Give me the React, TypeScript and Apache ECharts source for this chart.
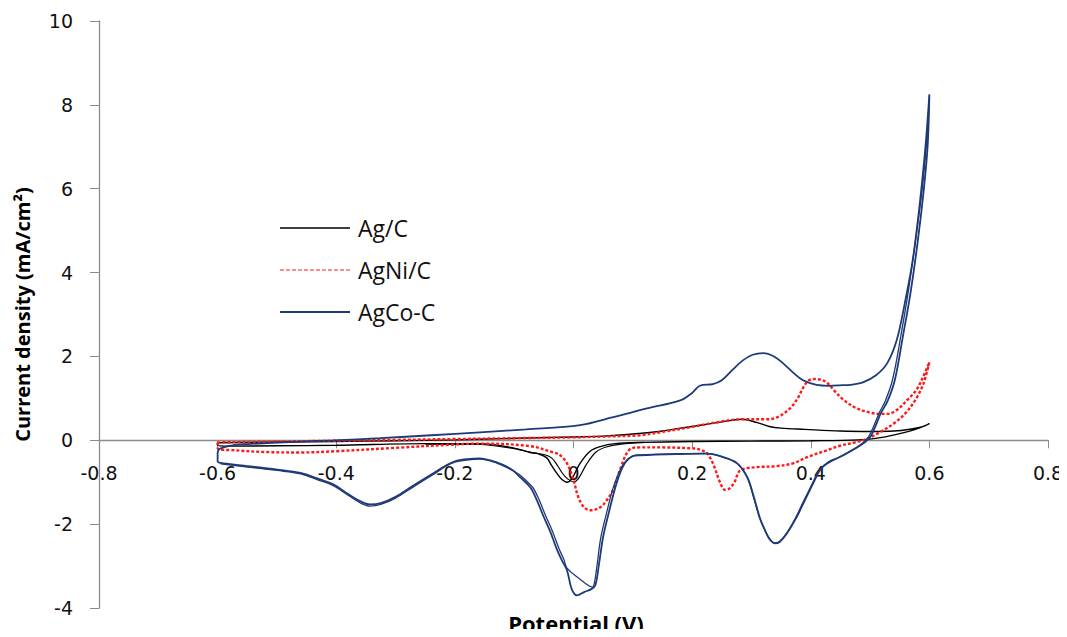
import React, { useEffect, useRef } from "react";
import * as echarts from "echarts";

// ---- tick labels ----
const xTickLabels = ["-0.8", "-0.6", "-0.4", "-0.2", "0", "0.2", "0.4", "0.6", "0.8"];
const yTickLabels = ["-4", "-2", "0", "2", "4", "6", "8", "10"];

// ---- series names ----
const seriesNames = ["Ag/C", "AgNi/C", "AgCo-C"];

// ---- Ag/C (black) : forward scan then reverse scan ----
const agCForward: number[][] = [
  [-0.6, -0.06], [-0.5, -0.04], [-0.4, -0.03], [-0.3, -0.01], [-0.2, 0.01], [-0.12, 0.04],
  [0.0, 0.08], [0.05, 0.1], [0.1, 0.15], [0.15, 0.22], [0.18, 0.29], [0.22, 0.37],
  [0.25, 0.44], [0.284, 0.5], [0.31, 0.42], [0.33, 0.33], [0.35, 0.29], [0.39, 0.26],
  [0.45, 0.22], [0.5, 0.21], [0.54, 0.22], [0.57, 0.27], [0.59, 0.33], [0.6, 0.4],
];
const agCReverse: number[][] = [
  [0.6, 0.4], [0.58, 0.28], [0.55, 0.16], [0.52, 0.07], [0.48, 0.01], [0.4, -0.01],
  [0.3, -0.02], [0.2, -0.03], [0.12, -0.05], [0.07, -0.08], [0.045, -0.15], [0.028, -0.26],
  [0.011, -0.55], [-0.003, -0.92], [-0.011, -1.0], [-0.02, -0.93], [-0.028, -0.79],
  [-0.037, -0.6], [-0.045, -0.42], [-0.06, -0.32], [-0.073, -0.29], [-0.102, -0.18],
  [-0.158, -0.08], [-0.25, -0.08], [-0.4, -0.12], [-0.5, -0.13], [-0.58, -0.14], [-0.6, -0.12],
  [-0.6, -0.06],
];
const agCReverse2: number[][] = [
  [0.12, -0.05], [0.08, -0.09], [0.055, -0.16], [0.038, -0.28], [0.022, -0.57],
  [0.008, -0.92], [0.0, -0.99], [-0.01, -0.92], [-0.019, -0.78], [-0.028, -0.58],
  [-0.037, -0.42], [-0.05, -0.34], [-0.068, -0.3], [-0.1, -0.2], [-0.158, -0.1], [-0.25, -0.09],
];

// ---- AgNi/C (red dashed) ----
const agNiForward: number[][] = [
  [-0.6, -0.05], [-0.5, -0.03], [-0.4, -0.01], [-0.3, 0.01], [-0.2, 0.03], [-0.1, 0.05],
  [0.0, 0.07], [0.05, 0.09], [0.112, 0.12], [0.15, 0.2], [0.196, 0.31], [0.242, 0.43],
  [0.281, 0.5], [0.326, 0.5], [0.345, 0.56], [0.365, 0.76], [0.378, 1.0], [0.387, 1.25],
  [0.396, 1.42], [0.406, 1.46], [0.418, 1.44], [0.427, 1.38], [0.44, 1.18], [0.455, 0.97],
  [0.475, 0.78], [0.5, 0.66], [0.515, 0.63], [0.529, 0.63], [0.545, 0.72], [0.562, 0.95],
  [0.578, 1.2], [0.589, 1.5], [0.6, 1.86],
];
const agNiReverse: number[][] = [
  [0.6, 1.86], [0.59, 1.35], [0.578, 1.0], [0.56, 0.65], [0.54, 0.4], [0.52, 0.22],
  [0.5, 0.07], [0.475, -0.05], [0.449, -0.13], [0.427, -0.24], [0.394, -0.4], [0.37, -0.55],
  [0.34, -0.62], [0.309, -0.64], [0.281, -0.72], [0.272, -0.98], [0.263, -1.15],
  [0.255, -1.18], [0.247, -1.0], [0.235, -0.55], [0.225, -0.31], [0.21, -0.21],
  [0.196, -0.19], [0.15, -0.17], [0.112, -0.17], [0.1, -0.18], [0.09, -0.3], [0.078, -0.72],
  [0.068, -1.15], [0.055, -1.45], [0.045, -1.6], [0.03, -1.67], [0.018, -1.6],
  [0.008, -1.35], [0.0, -0.95], [-0.011, -0.55], [-0.023, -0.35], [-0.034, -0.29],
  [-0.073, -0.14], [-0.158, -0.08], [-0.2, -0.1], [-0.3, -0.18], [-0.4, -0.26],
  [-0.46, -0.29], [-0.52, -0.28], [-0.57, -0.24], [-0.6, -0.19], [-0.6, -0.05],
];

// ---- AgCo-C (navy) ----
const agCoForward: number[][] = [
  [-0.6, -0.3], [-0.598, -0.22], [-0.59, -0.17], [-0.575, -0.12], [-0.55, -0.09],
  [-0.517, -0.07], [-0.46, -0.03], [-0.405, 0.0], [-0.326, 0.05], [-0.24, 0.12],
  [-0.158, 0.19], [-0.08, 0.26], [0.011, 0.36], [0.067, 0.55], [0.124, 0.76], [0.18, 0.95],
  [0.2, 1.13], [0.213, 1.3], [0.235, 1.34], [0.25, 1.43], [0.268, 1.68], [0.285, 1.9],
  [0.302, 2.04], [0.32, 2.08], [0.338, 2.0], [0.353, 1.84], [0.37, 1.62], [0.387, 1.43],
  [0.41, 1.32], [0.43, 1.3], [0.449, 1.31], [0.47, 1.33], [0.488, 1.38], [0.51, 1.55],
  [0.529, 1.84], [0.545, 2.39], [0.559, 3.3], [0.572, 4.3], [0.585, 5.8], [0.594, 7.1],
  [0.6, 8.25],
];
const agCoReverse: number[][] = [
  [0.6, 8.25], [0.597, 7.0], [0.59, 5.9], [0.58, 4.7], [0.568, 3.5], [0.555, 2.45],
  [0.542, 1.45], [0.53, 0.95], [0.518, 0.64], [0.508, 0.3], [0.5, 0.07], [0.49, -0.06],
  [0.478, -0.17], [0.449, -0.4], [0.43, -0.52], [0.416, -0.7], [0.404, -1.03],
  [0.39, -1.43], [0.376, -1.84], [0.36, -2.22], [0.348, -2.42], [0.34, -2.46],
  [0.33, -2.35], [0.322, -2.12], [0.314, -1.84], [0.303, -1.3], [0.293, -0.88],
  [0.276, -0.55], [0.252, -0.4], [0.225, -0.32], [0.18, -0.33], [0.112, -0.36],
  [0.1, -0.38], [0.088, -0.52], [0.078, -0.8], [0.07, -1.15], [0.06, -1.7], [0.05, -2.3],
  [0.043, -2.95], [0.037, -3.45], [0.03, -3.55], [0.018, -3.62], [0.006, -3.7],
  [-0.003, -3.55], [-0.011, -3.1], [-0.02, -2.85], [-0.028, -2.6], [-0.04, -2.15],
  [-0.051, -1.8], [-0.062, -1.42], [-0.073, -1.12], [-0.09, -0.88], [-0.102, -0.72],
  [-0.12, -0.58], [-0.14, -0.48], [-0.158, -0.43], [-0.18, -0.45], [-0.2, -0.5],
  [-0.215, -0.6], [-0.237, -0.79], [-0.27, -1.08], [-0.3, -1.35], [-0.325, -1.5],
  [-0.343, -1.53], [-0.36, -1.45], [-0.38, -1.28], [-0.405, -1.05], [-0.43, -0.92],
  [-0.46, -0.78], [-0.5, -0.7], [-0.56, -0.6], [-0.595, -0.54], [-0.6, -0.5], [-0.6, -0.3],
];
const agCoReverse2: number[][] = [
  [0.6, 8.2], [0.596, 7.2], [0.588, 6.0], [0.577, 4.8], [0.565, 3.6], [0.552, 2.5],
  [0.538, 1.45], [0.526, 0.95], [0.515, 0.64], [0.505, 0.3], [0.497, 0.07], [0.488, -0.06],
  [0.476, -0.18], [0.447, -0.41], [0.43, -0.54], [0.414, -0.72], [0.402, -1.05],
  [0.388, -1.45], [0.374, -1.86], [0.359, -2.22], [0.347, -2.42], [0.339, -2.45],
  [0.33, -2.33], [0.321, -2.1], [0.313, -1.82], [0.302, -1.28], [0.292, -0.86],
  [0.275, -0.54], [0.25, -0.39], [0.225, -0.31], [0.18, -0.32], [0.112, -0.35],
  [0.098, -0.38], [0.085, -0.55], [0.075, -0.82], [0.066, -1.17], [0.056, -1.72],
  [0.046, -2.32], [0.04, -2.95], [0.035, -3.42], [0.032, -3.5], [0.01, -3.3],
  [-0.011, -3.05], [-0.016, -2.85], [-0.024, -2.6], [-0.036, -2.15], [-0.047, -1.8],
  [-0.058, -1.42], [-0.069, -1.12], [-0.086, -0.88], [-0.1, -0.74], [-0.12, -0.6],
  [-0.14, -0.49], [-0.158, -0.45], [-0.18, -0.47], [-0.2, -0.52], [-0.215, -0.62],
  [-0.237, -0.82], [-0.27, -1.11], [-0.3, -1.38], [-0.325, -1.53], [-0.343, -1.57],
  [-0.36, -1.49], [-0.38, -1.31], [-0.405, -1.08], [-0.43, -0.95], [-0.46, -0.8],
  [-0.5, -0.72], [-0.56, -0.62], [-0.595, -0.56],
];

const BLACK = "#000000";
const RED = "#FF1A1A";
const NAVY = "#1F3A78";

const Y_MIN = -4;
const Y_MAX = 10;
const GRID_TOP = 21;
const GRID_BOTTOM = 29;
const H = 637;

// legend key appearance
const legendStyles = [
  { stroke: BLACK, lineWidth: 1.5, lineDash: null as number[] | null },
  { stroke: RED, lineWidth: 1.2, lineDash: [4, 2] },
  { stroke: NAVY, lineWidth: 2, lineDash: null as number[] | null },
];

export default function App() {
  const ref = useRef<HTMLDivElement>(null);

  useEffect(() => {
    if (!ref.current) return;
    const chart = echarts.init(ref.current, undefined, { renderer: "svg" });

    const fmtX = (v: number) => {
      const idx = Math.round((v + 0.8) / 0.2);
      return xTickLabels[idx] ?? "";
    };
    const fmtY = (v: number) => {
      const idx = Math.round((v - Y_MIN) / 2);
      return yTickLabels[idx] ?? "";
    };

    // place the x axis on y = 0 (distance from the grid bottom)
    const plotH = H - GRID_TOP - GRID_BOTTOM;
    const zeroOffset = -((0 - Y_MIN) / (Y_MAX - Y_MIN)) * plotH;

    const mk = (name: string, data: number[][], color: string, width: number, dashed: boolean) => ({
      type: "line",
      name,
      data,
      color,
      smooth: 0.35,
      symbol: "none",
      showSymbol: false,
      lineStyle: { color, width, type: dashed ? [3, 2] : "solid" },
      itemStyle: { color },
      z: 3,
    });

    const legendTop = 228;
    const legendStep = 42;
    const legendGraphics: any[] = [];
    seriesNames.forEach((name, i) => {
      const y = legendTop + i * legendStep;
      const s = legendStyles[i];
      legendGraphics.push({
        type: "line",
        shape: { x1: 280, y1: y, x2: 350, y2: y },
        style: { stroke: s.stroke, lineWidth: s.lineWidth, lineDash: s.lineDash || undefined },
        z: 10,
      });
      legendGraphics.push({
        type: "text",
        x: 358,
        y,
        style: {
          text: name,
          font: "23px 'Open Sans'",
          fill: "#111",
          textAlign: "left",
          textVerticalAlign: "middle",
        },
        z: 10,
      });
    });

    chart.setOption({
      animation: false,
      backgroundColor: "#ffffff",
      grid: {
        left: 99,
        right: 19,
        top: GRID_TOP,
        bottom: GRID_BOTTOM,
        containLabel: false,
        outerBoundsMode: "none",
      },
      xAxis: {
        type: "value",
        min: -0.8,
        max: 0.8,
        interval: 0.2,
        position: "bottom",
        offset: zeroOffset,
        axisLine: { onZero: false, lineStyle: { color: "#8c8c8c", width: 1.3 } },
        axisTick: { show: true, inside: false, length: 8, lineStyle: { color: "#8c8c8c" } },
        axisLabel: {
          formatter: fmtX,
          margin: 23,
          color: "#111",
          fontSize: 19,
          fontFamily: "DejaVu Sans",
          showMinLabel: true,
          showMaxLabel: true,
        },
        splitLine: { show: false },
      },
      yAxis: {
        type: "value",
        min: Y_MIN,
        max: Y_MAX,
        interval: 2,
        axisLine: { show: true, onZero: false, lineStyle: { color: "#8c8c8c", width: 1.3 } },
        axisTick: { show: true, inside: false, length: 9, lineStyle: { color: "#8c8c8c" } },
        axisLabel: {
          formatter: fmtY,
          margin: 26,
          color: "#111",
          fontSize: 19,
          fontFamily: "DejaVu Sans",
        },
        splitLine: { show: false },
        name: "Current density (mA/cm²)",
        nameLocation: "middle",
        nameGap: 67,
        nameRotate: 90,
        nameTextStyle: {
          fontFamily: "Open Sans",
          fontWeight: "bold",
          fontSize: 20,
          color: "#000",
        },
      },
      legend: { show: false, data: seriesNames },
      graphic: [
        {
          type: "text",
          x: 576,
          y: 612,
          style: {
            text: "Potential (V)",
            font: "bold 22px 'Open Sans'",
            fill: "#000",
            textAlign: "center",
            textVerticalAlign: "top",
          },
        },
        ...legendGraphics,
      ],
      series: [
        mk(seriesNames[0], [...agCForward, ...agCReverse], BLACK, 1.4, false),
        mk(seriesNames[0], agCReverse2, BLACK, 1.2, false),
        mk(seriesNames[1], [...agNiForward, ...agNiReverse], RED, 2.4, true),
        mk(seriesNames[2], [...agCoForward, ...agCoReverse], NAVY, 1.8, false),
        mk(seriesNames[2], agCoReverse2, NAVY, 1.3, false),
      ],
    });

    return () => chart.dispose();
  }, []);

  return <div ref={ref} style={{ width: 1067, height: 637, margin: -8 }} />;
}
